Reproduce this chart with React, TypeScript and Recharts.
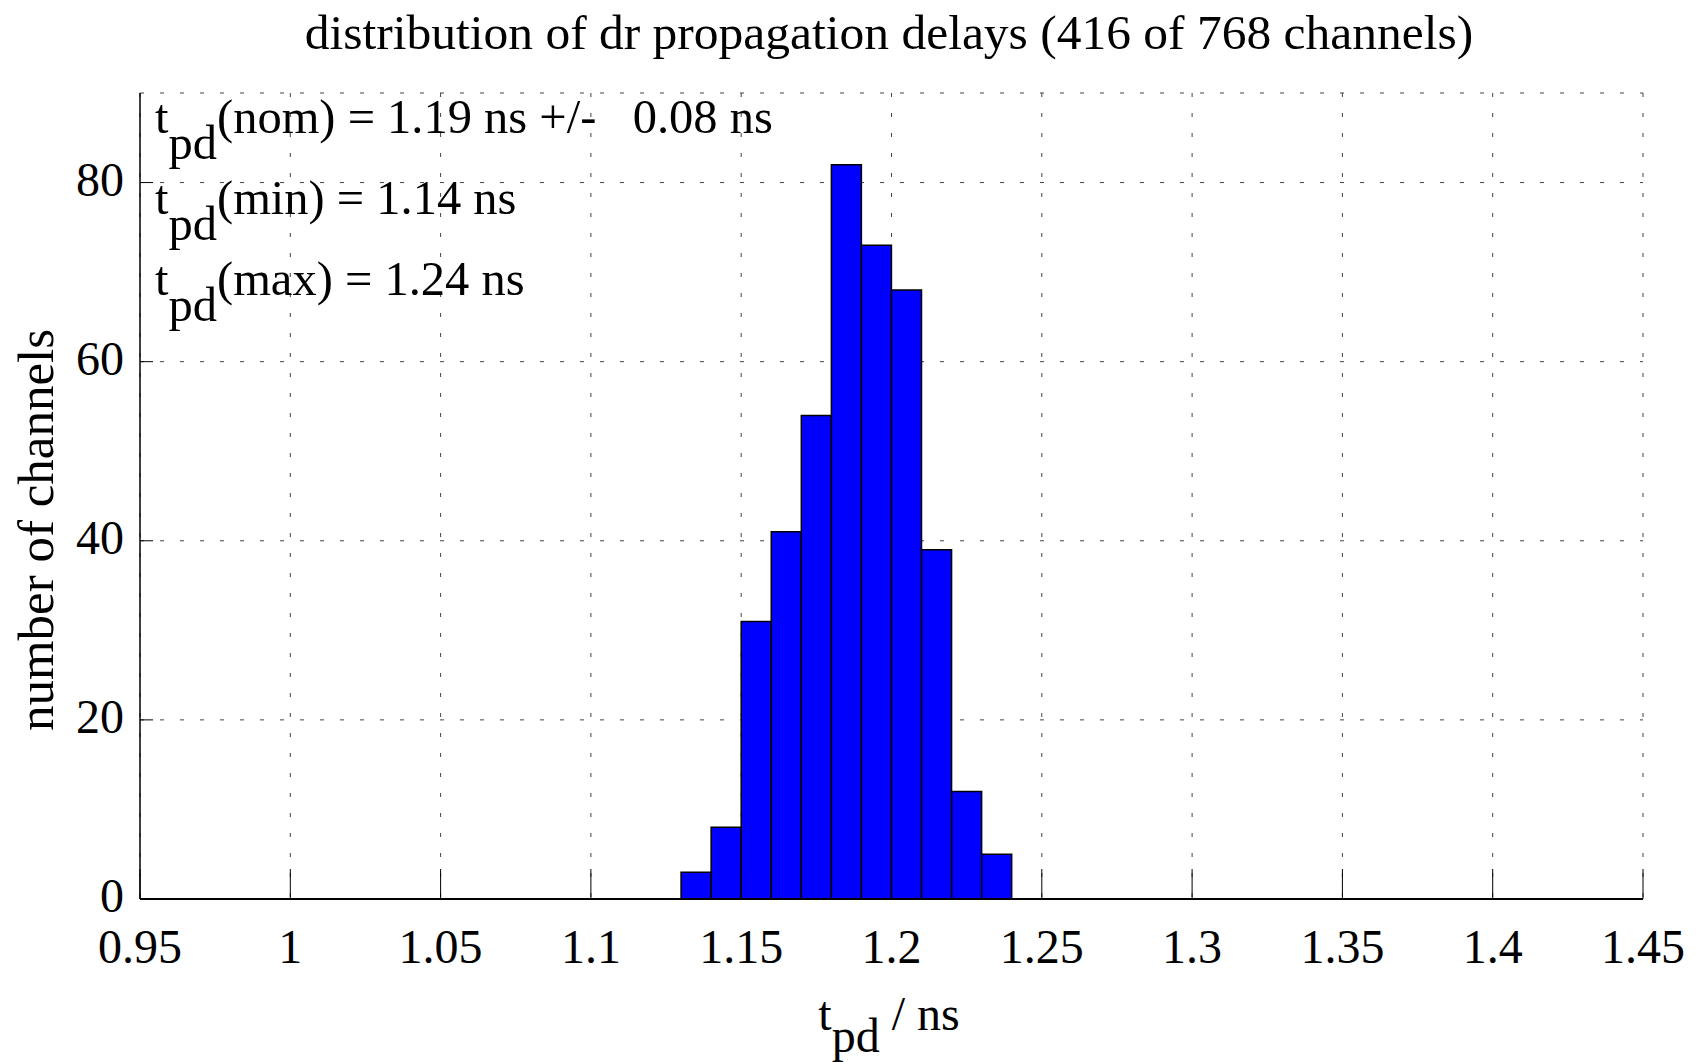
import React from 'react';
import { ComposedChart, Bar, XAxis, YAxis, CartesianGrid } from 'recharts';

const binCenters = [1.135, 1.145, 1.155, 1.165, 1.175, 1.185, 1.195, 1.205, 1.215, 1.225, 1.235];
const counts = [3, 8, 31, 41, 54, 82, 73, 68, 39, 12, 5];
const xTicks = [0.95, 1, 1.05, 1.1, 1.15, 1.2, 1.25, 1.3, 1.35, 1.4, 1.45];
const yTicks = [0, 20, 40, 60, 80];
const xDomain = [0.95, 1.45];
const yDomain = [0, 90];

const titleText = 'distribution of dr propagation delays (416 of 768 channels)';
const annotations = [
  { label: '(nom) = 1.19 ns +/-   0.08 ns' },
  { label: '(min) = 1.14 ns' },
  { label: '(max) = 1.24 ns' },
];

const data = binCenters.map((c, i) => ({ center: c, count: counts[i] }));

const FONT = '"Liberation Serif", "Times New Roman", serif';
const xTickStyle = { fontSize: 48, fill: '#000', fontFamily: FONT };
const yTickStyle = { fontSize: 48, fill: '#000', fontFamily: FONT, dy: -4 };

export default function App() {
  return (
    <div style={{ position: 'absolute', left: 0, top: 0, width: 1703, height: 1062, background: '#fff' }}>
      <ComposedChart
        width={1703}
        height={1062}
        data={data}
        margin={{ top: 93, right: 60, bottom: 0, left: 0 }}
        barCategoryGap={0}
        barGap={0}
      >
        <CartesianGrid stroke="#444" strokeWidth={1} strokeDasharray="4 16" />
        <XAxis
          dataKey="center"
          type="number"
          domain={xDomain}
          ticks={xTicks}
          allowDataOverflow
          height={163}
          tickSize={-30}
          tickMargin={60}
          tick={xTickStyle}
          tickFormatter={(v) => String(v)}
          axisLine={{ stroke: '#000', strokeWidth: 2 }}
          tickLine={{ stroke: '#000', strokeWidth: 1 }}
        />
        <XAxis
          xAxisId="top"
          orientation="top"
          type="number"
          domain={xDomain}
          ticks={xTicks}
          allowDataOverflow
          height={0}
          tickSize={-30}
          tick={false}
          axisLine={{ stroke: '#000', strokeWidth: 1.5 }}
          tickLine={{ stroke: '#000', strokeWidth: 1 }}
        />
        <YAxis
          type="number"
          domain={yDomain}
          ticks={yTicks}
          allowDataOverflow
          width={140}
          tickSize={-13}
          tickMargin={29}
          tick={yTickStyle}
          axisLine={{ stroke: '#000', strokeWidth: 1.5 }}
          tickLine={{ stroke: '#000', strokeWidth: 1 }}
        />
        <YAxis
          yAxisId="right"
          orientation="right"
          type="number"
          domain={yDomain}
          ticks={yTicks}
          allowDataOverflow
          width={0}
          tickSize={-13}
          tick={false}
          axisLine={{ stroke: '#000', strokeWidth: 1.5 }}
          tickLine={{ stroke: '#000', strokeWidth: 1 }}
        />
        <Bar
          dataKey="count"
          fill="#0000ff"
          stroke="#000"
          strokeWidth={1.5}
          isAnimationActive={false}
        />
      </ComposedChart>
      <svg
        width={1703}
        height={1062}
        style={{ position: 'absolute', left: 0, top: 0, pointerEvents: 'none' }}
        fontFamily={FONT}
      >
        <text x={889} y={49} fontSize={49.5} textAnchor="middle" fill="#000">
          {titleText}
        </text>
        {annotations.map((a, i) => (
          <text key={i} x={155} y={133 + i * 81} fontSize={48.5} fill="#000" style={{ whiteSpace: 'pre' }}>
            t
            <tspan dy={26}>pd</tspan>
            <tspan dy={-26}>{a.label}</tspan>
          </text>
        ))}
        <text x={889} y={1030} fontSize={48} textAnchor="middle" fill="#000" style={{ whiteSpace: 'pre' }}>
          t
          <tspan dy={22}>pd</tspan>
          <tspan dy={-22}>{' / ns'}</tspan>
        </text>
        <text
          x={53}
          y={530}
          fontSize={51}
          textAnchor="middle"
          fill="#000"
          transform="rotate(-90 53 530)"
        >
          number of channels
        </text>
      </svg>
    </div>
  );
}
